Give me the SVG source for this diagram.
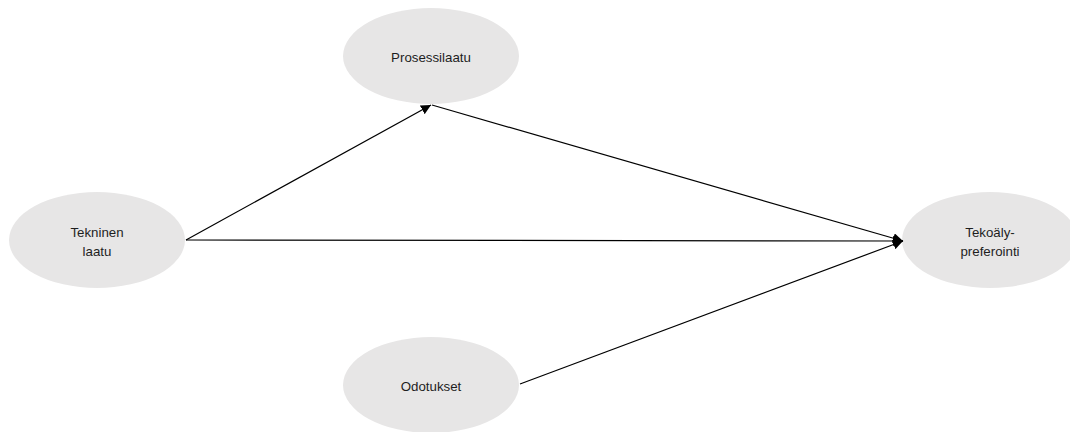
<svg xmlns="http://www.w3.org/2000/svg" width="1070" height="432" viewBox="0 0 1070 432">
<style>
.node ellipse{fill:#e7e6e6;stroke:none}
.node text{font-family:"Liberation Sans",Arial,sans-serif;font-size:13.3px;fill:#1e1e1e;text-anchor:middle}
.edges line{stroke:#000;stroke-width:1.2;fill:none}
</style>
<defs>
<marker id="arr" viewBox="0 0 10 10" refX="10" refY="5" markerWidth="10" markerHeight="10" markerUnits="userSpaceOnUse" orient="auto">
<path d="M0,0 L10,5 L0,10 z" fill="#000"/>
</marker>
</defs>
<rect width="1070" height="432" fill="#fff"/>
<g id="prosessilaatu" class="node">
<ellipse cx="431" cy="56" rx="88" ry="48"/>
<text x="431" y="62">Prosessilaatu</text>
</g>
<g id="tekninen" class="node">
<ellipse cx="97" cy="240" rx="88" ry="48"/>
<text x="97" y="237">Tekninen</text>
<text x="97" y="256">laatu</text>
</g>
<g id="tekoaly" class="node">
<ellipse cx="990" cy="240" rx="88" ry="48"/>
<text x="990" y="237">Tekoäly-</text>
<text x="990" y="256">preferointi</text>
</g>
<g id="odotukset" class="node">
<ellipse cx="431" cy="385" rx="88" ry="48"/>
<text x="431" y="391">Odotukset</text>
</g>
<g id="connectors" class="edges">
<line x1="186" y1="240" x2="431" y2="105" marker-end="url(#arr)"/>
<line x1="432" y1="105" x2="903" y2="241" marker-end="url(#arr)"/>
<line x1="186" y1="240" x2="903" y2="241" marker-end="url(#arr)"/>
<line x1="520" y1="384" x2="903" y2="241" marker-end="url(#arr)"/>
</g>
</svg>
